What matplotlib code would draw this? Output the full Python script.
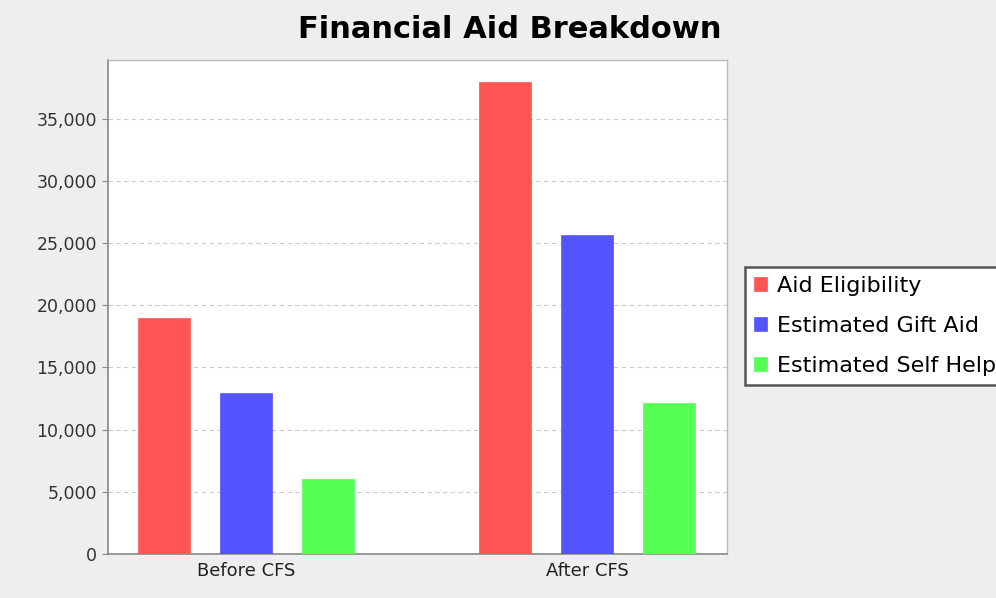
import numpy as np
import matplotlib
matplotlib.use("Agg")
import matplotlib.pyplot as plt
from matplotlib.ticker import FuncFormatter

# data
categories = ["Before CFS", "After CFS"]
series = ["Aid Eligibility", "Estimated Gift Aid", "Estimated Self Help"]
aid_eligibility = [19000, 37900]
gift_aid = [12900, 25600]
self_help = [6000, 12150]
colors = ["#FF5555", "#5555FF", "#55FF55"]

fig = plt.figure(figsize=(9.96, 5.98), dpi=100, facecolor="#EEEEEE")
ax = fig.add_axes([0.1084, 0.0736, 0.6215, 0.826])
ax.set_facecolor("white")

x = np.arange(len(categories))
width = 0.1525
step = 0.2405
for i, (vals, name) in enumerate(zip([aid_eligibility, gift_aid, self_help], series)):
    ax.bar(x + (i - 1) * step, vals, width, color=colors[i], label=name,
           edgecolor=colors[i], linewidth=0.5, zorder=3)

ax.set_xlim(-0.405, 1.41)
ax.set_ylim(0, 39700)
ax.set_yticks(np.arange(0, 35001, 5000))
ax.yaxis.set_major_formatter(FuncFormatter(lambda v, p: f"{int(v):,}"))
ax.set_xticks(x)
ax.set_xticklabels(categories)
ax.tick_params(axis="y", length=4, color="#888888", labelsize=12.5, labelcolor="#333333", pad=4)
ax.tick_params(axis="x", length=0, labelsize=13, labelcolor="#222222", pad=6)

ax.grid(axis="y", linestyle=(0, (4, 3)), color="#CCCCCC", linewidth=0.8, zorder=0)

for side in ["left", "bottom"]:
    ax.spines[side].set_color("#888888")
    ax.spines[side].set_linewidth(1.2)
for side in ["top", "right"]:
    ax.spines[side].set_color("#BBBBBB")
    ax.spines[side].set_linewidth(1.0)

fig.text(0.512, 0.950, "Financial Aid Breakdown", ha="center", va="center",
         fontsize=22, fontweight="bold", color="black")

# legend sits partly outside the canvas, as in the original
leg = fig.legend(loc="upper left", bbox_to_anchor=(745 / 996, 1 - 267 / 598),
                 fontsize=16, handlelength=0.6, handleheight=0.6, handletextpad=0.45,
                 labelspacing=0.9, borderpad=0.4, borderaxespad=0, fancybox=False,
                 framealpha=1, edgecolor="#555555", facecolor="white")
leg.get_frame().set_linewidth(1.8)

fig.savefig("out.png", dpi=100, facecolor=fig.get_facecolor())
